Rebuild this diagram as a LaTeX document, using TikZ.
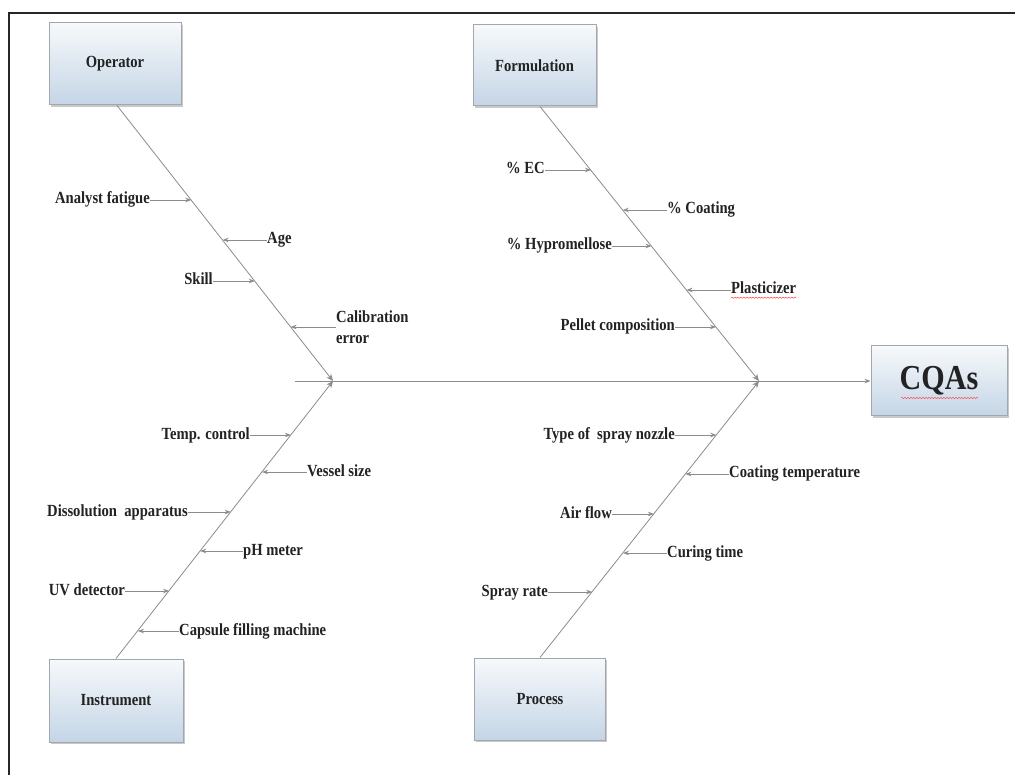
\documentclass[tikz,border=0pt]{standalone}
\usepackage{fontspec}
\setmainfont{Liberation Serif}[FakeStretch=0.86]
\usetikzlibrary{calc,shadows,arrows.meta,decorations.pathmorphing}
\definecolor{linegray}{HTML}{8C8C8C}
\definecolor{txt}{HTML}{222222}
\definecolor{boxtop}{HTML}{F7F9FB}
\definecolor{boxbot}{HTML}{C4D5E6}
\definecolor{boxedge}{HTML}{A2A7AD}
\begin{document}
\begin{tikzpicture}[x=1pt,y=-1pt,
  catbox/.style={draw=boxedge, line width=1pt, top color=boxtop, bottom color=boxbot,
    drop shadow={shadow xshift=1.5pt, shadow yshift=-2pt, fill=black!35, opacity=0.6},
    text=txt, font=\bfseries\fontsize{17}{19}\selectfont, inner sep=0pt},
  lbl/.style={text=txt, font=\bfseries\fontsize{17}{19}\selectfont, inner sep=0pt,
    text height=11.5pt, text depth=3.5pt},
  bone/.style={draw=linegray, line width=0.8pt},
  tip/.style={draw=linegray, line width=0.8pt, -{Stealth[length=6pt,width=4.5pt]}},
  jtip/.style={draw=linegray, line width=0.8pt, -{Stealth[length=7pt,width=6pt]}},
  wavy/.style={draw=red!70, line width=0.5pt, decorate, decoration={snake, amplitude=0.6pt, segment length=3pt}}
]
\useasboundingbox (0,0) rectangle (1015,775);
\fill[white] (0,0) rectangle (1015,775);
% frame
\draw[line width=2.2pt, black!85] (9,775) -- (9,13) -- (1015,13);

% category boxes
\node[catbox, minimum width=132pt, minimum height=82pt] (op) at (115,64) {Operator};
\node[catbox, minimum width=123pt, minimum height=81pt] (form) at (534.5,65.5) {Formulation};
\node[catbox, minimum width=134pt, minimum height=83pt] (inst) at (116,700.5) {Instrument};
\node[catbox, minimum width=131pt, minimum height=82pt] (proc) at (540,699) {Process};
\node[catbox, minimum width=136pt, minimum height=70pt, font=\bfseries\fontsize{35}{38}\selectfont] (cqa) at (939,381) {CQAs};
\draw[wavy] ($(cqa.center)+(-38,17)$) -- ($(cqa.center)+(39,17)$);

% junctions and spine
\coordinate (j1) at (333,381);
\coordinate (j2) at (759,381);
\coordinate (sp0) at (295,381);
\draw[bone] (sp0) -- (j2);
\draw[tip] (j2) -- (cqa.west);

% branch ends on boxes
\coordinate (opb) at ($(op.south)+(2,0)$);
\coordinate (formb) at ($(form.south)+(5.5,0)$);
\coordinate (instb) at (inst.north);
\coordinate (procb) at (proc.north);

\draw[jtip] (opb) -- (j1);
\draw[jtip] (instb) -- (j1);
\draw[jtip] (formb) -- (j2);
\draw[jtip] (procb) -- (j2);

% ---------- Operator causes ----------
\coordinate (o1) at ($(opb)!0.344!(j1)$);
\coordinate (o2) at ($(opb)!0.489!(j1)$);
\coordinate (o3) at ($(opb)!0.638!(j1)$);
\coordinate (o4) at ($(opb)!0.804!(j1)$);
\node[lbl, anchor=east] (lo1) at (150,200) {Analyst fatigue};
\node[lbl, anchor=west] (lo2) at (267,240) {Age};
\node[lbl, anchor=east] (lo3) at (213,281) {Skill};
\node[lbl, anchor=west, align=left, text height=, text depth=, font=\bfseries\fontsize{17}{21}\selectfont] (lo4) at (336,327) {Calibration\\error};
\draw[tip] (lo1.east) -- (o1 |- lo1.east);
\draw[tip] (lo2.west) -- (o2 |- lo2.west);
\draw[tip] (lo3.east) -- (o3 |- lo3.east);
\draw[tip] (lo4.west) -- (o4 |- lo4.west);

% ---------- Formulation causes ----------
\coordinate (f1) at ($(formb)!0.233!(j2)$);
\coordinate (f2) at ($(formb)!0.378!(j2)$);
\coordinate (f3) at ($(formb)!0.509!(j2)$);
\coordinate (f4) at ($(formb)!0.669!(j2)$);
\coordinate (f5) at ($(formb)!0.804!(j2)$);
\node[lbl, anchor=east] (lf1) at (545,170) {\% EC};
\node[lbl, anchor=west] (lf2) at (667,210) {\% Coating};
\node[lbl, anchor=east] (lf3) at (612,246) {\% Hypromellose};
\node[lbl, anchor=west] (lf4) at (731,290) {Plasticizer};
\node[lbl, anchor=east] (lf5) at (675,327) {Pellet composition};
\draw[wavy] (lf4.south west) -- (lf4.south east);
\draw[tip] (lf1.east) -- (f1 |- lf1.east);
\draw[tip] (lf2.west) -- (f2 |- lf2.west);
\draw[tip] (lf3.east) -- (f3 |- lf3.east);
\draw[tip] (lf4.west) -- (f4 |- lf4.west);
\draw[tip] (lf5.east) -- (f5 |- lf5.east);

% ---------- Instrument causes ----------
\coordinate (i1) at ($(j1)!0.194!(instb)$);
\coordinate (i2) at ($(j1)!0.327!(instb)$);
\coordinate (i3) at ($(j1)!0.471!(instb)$);
\coordinate (i4) at ($(j1)!0.612!(instb)$);
\coordinate (i5) at ($(j1)!0.755!(instb)$);
\coordinate (i6) at ($(j1)!0.899!(instb)$);
\node[lbl, anchor=east] (li1) at (250,435) {Temp. control};
\node[lbl, anchor=west] (li2) at (307,472) {Vessel size};
\node[lbl, anchor=east] (li3) at (188,512) {Dissolution\ \ apparatus};
\node[lbl, anchor=west] (li4) at (243,551) {pH meter};
\node[lbl, anchor=east] (li5) at (125,591) {UV detector};
\node[lbl, anchor=west] (li6) at (179,631) {Capsule filling machine};
\draw[tip] (li1.east) -- (i1 |- li1.east);
\draw[tip] (li2.west) -- (i2 |- li2.west);
\draw[tip] (li3.east) -- (i3 |- li3.east);
\draw[tip] (li4.west) -- (i4 |- li4.west);
\draw[tip] (li5.east) -- (i5 |- li5.east);
\draw[tip] (li6.west) -- (i6 |- li6.west);

% ---------- Process causes ----------
\coordinate (p1) at ($(j2)!0.195!(procb)$);
\coordinate (p2) at ($(j2)!0.336!(procb)$);
\coordinate (p3) at ($(j2)!0.480!(procb)$);
\coordinate (p4) at ($(j2)!0.621!(procb)$);
\coordinate (p5) at ($(j2)!0.762!(procb)$);
\node[lbl, anchor=east] (lp1) at (675,435) {Type of\ \ spray nozzle};
\node[lbl, anchor=west] (lp2) at (729,474) {Coating temperature};
\node[lbl, anchor=east] (lp3) at (612,514) {Air flow};
\node[lbl, anchor=west] (lp4) at (667,553) {Curing time};
\node[lbl, anchor=east] (lp5) at (548,592) {Spray rate};
\draw[tip] (lp1.east) -- (p1 |- lp1.east);
\draw[tip] (lp2.west) -- (p2 |- lp2.west);
\draw[tip] (lp3.east) -- (p3 |- lp3.east);
\draw[tip] (lp4.west) -- (p4 |- lp4.west);
\draw[tip] (lp5.east) -- (p5 |- lp5.east);
\end{tikzpicture}
\end{document}
